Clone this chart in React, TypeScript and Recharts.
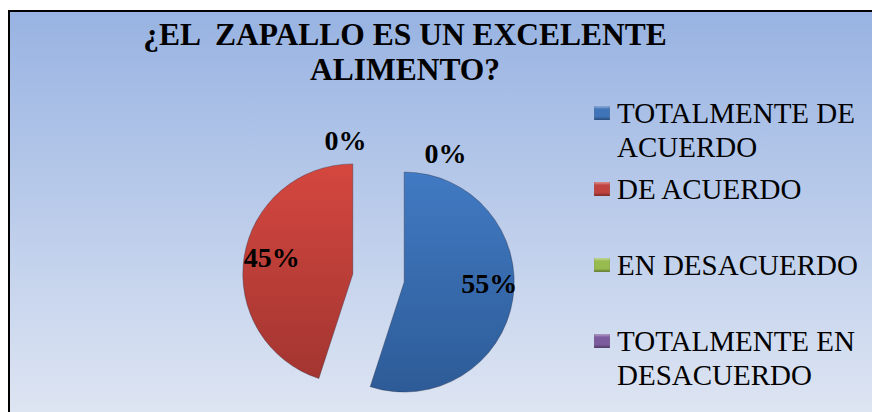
import { Legend, Pie, PieChart, Sector } from "recharts";

// survey answers, percent of respondents
const categories = [
  "TOTALMENTE DE ACUERDO",
  "DE ACUERDO",
  "EN DESACUERDO",
  "TOTALMENTE EN DESACUERDO",
];
const shares = [55, 45, 0, 0];
const sliceColors = ["url(#gBlue)", "url(#gRed)", "#9bbb59", "#8064a2"];
const legendColors = ["#3f74b9", "#c0433f", "#98bb4f", "#7b5b9e"];
const titleLines = ["¿EL  ZAPALLO ES UN EXCELENTE", "ALIMENTO?"];

const data = categories.map((name, i) => ({ name, value: shares[i], fill: sliceColors[i] }));

const W = 872;
const H = 412;
const RAD = Math.PI / 180;
const EXPLODE = 26;
const CSS = `
  .serif, .serif * { font-family: 'Liberation Serif', serif; }
`;

// where Excel dropped the empty slices' labels (baseline), relative to the pie centre
const zeroLabelOffsets: Record<number, [number, number]> = {
  2: [-33, -128],
  3: [67, -115],
};

function ExplodedSector(props: any) {
  const { cx, cy, midAngle, value } = props;
  if (!value) return <g />;
  const dx = Math.cos(-midAngle * RAD) * EXPLODE;
  const dy = Math.sin(-midAngle * RAD) * EXPLODE;
  return (
    <Sector
      {...props}
      cx={cx + dx}
      cy={cy + dy}
      stroke="rgba(40,40,60,0.35)"
      strokeWidth={1}
    />
  );
}

function renderLabel(p: any) {
  const { cx, cy, midAngle, value, index, percent } = p;
  let x: number;
  let y: number;
  if (value > 0) {
    x = cx + Math.cos(-midAngle * RAD) * 110 + 2;
    y = cy + Math.sin(-midAngle * RAD) * 80 + 2;
  } else {
    const [ox, oy] = zeroLabelOffsets[index] ?? [0, -130];
    x = cx + ox;
    y = cy + oy;
  }
  return (
    <text
      key={`lbl-${index}`}
      x={x}
      y={y}
      textAnchor="middle"
      fill="#000"
      fontWeight="bold"
      fontSize={28}
    >
      {`${Math.round(percent * 100)}%`}
    </text>
  );
}

function LegendBox() {
  return (
    <div style={{ position: "relative", width: 278, height: 300 }}>
      {categories.map((name, i) => (
        <div
          key={i}
          style={{
            position: "absolute",
            left: 0,
            top: i * 76,
            width: 278,
            fontSize: 29,
            lineHeight: "34px",
            color: "#000",
            textAlign: "left",
          }}
        >
          <span
            style={{
              position: "absolute",
              left: 0,
              top: 10,
              width: 16,
              height: 14,
              background: legendColors[i],
              boxShadow: "inset 0 -2px 2px rgba(0,0,0,0.3), inset 0 2px 2px rgba(255,255,255,0.35)",
            }}
          />
          <div style={{ marginLeft: 23, width: 252 }}>{name}</div>
        </div>
      ))}
    </div>
  );
}

export default function App() {
  return (
    <div
      className="serif"
      style={{
        position: "absolute",
        left: 0,
        top: 0,
        width: W,
        height: H,
        overflow: "hidden",
        background: "#fff",
      }}
    >
      <style>{CSS}</style>
      <div
        style={{
          position: "absolute",
          left: 8,
          top: 10,
          width: W,
          height: H,
          boxSizing: "border-box",
          borderLeft: "2px solid #000",
          borderTop: "2px solid #000",
          background: "linear-gradient(180deg, #98b3e2 0%, #dfe6f3 100%)",
        }}
      />
      <div
        style={{
          position: "absolute",
          left: 0,
          top: 0,
          width: W,
          textAlign: "center",
          fontWeight: "bold",
          fontSize: 31.5,
          lineHeight: "35px",
          color: "#000",
          paddingTop: 17,
        }}
      >
        {titleLines.map((t, i) => (
          <div key={i} style={{ position: "relative", left: -31, whiteSpace: "pre" }}>
            {t}
          </div>
        ))}
      </div>
      <div style={{ position: "absolute", left: 0, top: 0 }}>
        <PieChart width={W} height={H}>
          <defs>
            <linearGradient id="gBlue" x1="0" y1="0" x2="0" y2="1">
              <stop offset="0%" stopColor="#417ac3" />
              <stop offset="100%" stopColor="#2d5b97" />
            </linearGradient>
            <linearGradient id="gRed" x1="0" y1="0" x2="0" y2="1">
              <stop offset="0%" stopColor="#d4473f" />
              <stop offset="100%" stopColor="#a33531" />
            </linearGradient>
          </defs>
          <Pie
            data={data}
            dataKey="value"
            nameKey="name"
            cx={373.5}
            cy={273}
            outerRadius={110}
            startAngle={90}
            endAngle={-270}
            stroke="none"
            shape={ExplodedSector}
            label={renderLabel}
            labelLine={false}
            isAnimationActive={false}
          />
          <Legend
            content={<LegendBox />}
            wrapperStyle={{ position: "absolute", left: 594, top: 96, width: 278 }}
          />
        </PieChart>
      </div>
    </div>
  );
}
